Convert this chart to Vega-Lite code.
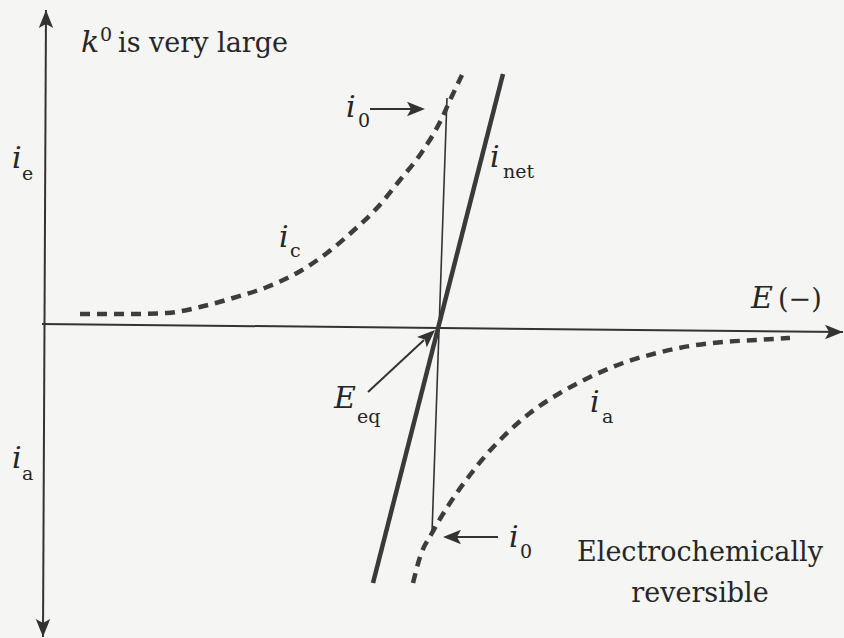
{
  "$schema": "https://vega.github.io/schema/vega-lite/v6.json",
  "width": 844,
  "height": 638,
  "autosize": {"type": "fit", "contains": "padding"},
  "padding": 0,
  "background": "#f5f5f3",
  "config": {"view": {"stroke": null}},
  "datasets": {
    "axes": [
      {"part": "current axis", "E": -392, "i": 318, "E2": -395, "i2": -309},
      {"part": "potential axis", "E": -396, "i": 4, "E2": 405, "i2": -4}
    ],
    "pointers": [
      {"part": "i0 top", "E": -68, "i": 219, "E2": -24, "i2": 219},
      {"part": "i0 bottom", "E": 15, "i": -209, "E2": 60, "i2": -209},
      {"part": "Eeq", "E": -70, "i": -64, "E2": -14, "i2": -12}
    ],
    "exchange": [
      {"part": "i0 span", "E": 9, "i": 230, "E2": -6, "i2": -205}
    ],
    "net": [
      {"part": "i net", "E": -65, "i": -255, "E2": 65, "i2": 254}
    ],
    "heads": [
      {"part": "current axis up", "E": -392, "i": 318, "heading": 270},
      {"part": "current axis down", "E": -395, "i": -309, "heading": 90},
      {"part": "potential axis", "E": 405, "i": -4, "heading": 0},
      {"part": "i0 top", "E": -13, "i": 219, "heading": 0},
      {"part": "i0 bottom", "E": 5, "i": -209, "heading": 180},
      {"part": "Eeq", "E": -3, "i": -2, "heading": 317}
    ],
    "curves": [
      {"branch": "ic", "E": -358, "i": 14},
      {"branch": "ic", "E": -311, "i": 14},
      {"branch": "ic", "E": -271, "i": 15},
      {"branch": "ic", "E": -238, "i": 21},
      {"branch": "ic", "E": -205, "i": 30},
      {"branch": "ic", "E": -171, "i": 41},
      {"branch": "ic", "E": -141, "i": 55},
      {"branch": "ic", "E": -111, "i": 75},
      {"branch": "ic", "E": -85, "i": 97},
      {"branch": "ic", "E": -61, "i": 120},
      {"branch": "ic", "E": -38, "i": 148},
      {"branch": "ic", "E": -16, "i": 176},
      {"branch": "ic", "E": 2, "i": 206},
      {"branch": "ic", "E": 14, "i": 232},
      {"branch": "ic", "E": 24, "i": 253},
      {"branch": "ia", "E": -25, "i": -255},
      {"branch": "ia", "E": -18, "i": -229},
      {"branch": "ia", "E": -6, "i": -205},
      {"branch": "ia", "E": 12, "i": -175},
      {"branch": "ia", "E": 32, "i": -147},
      {"branch": "ia", "E": 43, "i": -133},
      {"branch": "ia", "E": 65, "i": -109},
      {"branch": "ia", "E": 92, "i": -85},
      {"branch": "ia", "E": 122, "i": -65},
      {"branch": "ia", "E": 152, "i": -49},
      {"branch": "ia", "E": 185, "i": -35},
      {"branch": "ia", "E": 219, "i": -25},
      {"branch": "ia", "E": 252, "i": -18},
      {"branch": "ia", "E": 285, "i": -14},
      {"branch": "ia", "E": 319, "i": -12},
      {"branch": "ia", "E": 352, "i": -10}
    ],
    "symbols": [
      {"label": "k", "E": -357, "i": 276},
      {"label": "i", "E": -426, "i": 160},
      {"label": "i", "E": -426, "i": -140},
      {"label": "i", "E": -92, "i": 211},
      {"label": "i", "E": -159, "i": 81},
      {"label": "i", "E": 52, "i": 161},
      {"label": "E", "E": 313, "i": 20},
      {"label": "E", "E": -104, "i": -80},
      {"label": "i", "E": 152, "i": -84},
      {"label": "i", "E": 71, "i": -219}
    ],
    "indices": [
      {"label": "0", "E": -338, "i": 287},
      {"label": "e", "E": -416, "i": 148},
      {"label": "a", "E": -416, "i": -152},
      {"label": "0", "E": -80, "i": 201},
      {"label": "c", "E": -148, "i": 71},
      {"label": "net", "E": 65, "i": 150},
      {"label": "eq", "E": -81, "i": -95},
      {"label": "a", "E": 164, "i": -95},
      {"label": "0", "E": 82, "i": -230}
    ],
    "captions": [
      {"label": "is very large", "E": -320, "i": 276},
      {"label": "(−)", "E": 340, "i": 20}
    ],
    "note": [
      {"label": "Electrochemically", "E": 262, "i": -233},
      {"label": "reversible", "E": 262, "i": -274}
    ]
  },
  "layer": [
    {
      "data": {"name": "axes"},
      "mark": {"type": "rule", "color": "#333333", "strokeWidth": 2},
      "encoding": {
        "x": {"field": "E", "type": "quantitative", "scale": {"domain": [-438, 406], "nice": false, "zero": false}, "axis": null},
        "y": {"field": "i", "type": "quantitative", "scale": {"domain": [-310, 328], "nice": false, "zero": false}, "axis": null},
        "x2": {"field": "E2"},
        "y2": {"field": "i2"}
      }
    },
    {
      "data": {"name": "pointers"},
      "mark": {"type": "rule", "color": "#333333", "strokeWidth": 2},
      "encoding": {
        "x": {"field": "E", "type": "quantitative"},
        "y": {"field": "i", "type": "quantitative"},
        "x2": {"field": "E2"},
        "y2": {"field": "i2"}
      }
    },
    {
      "data": {"name": "exchange"},
      "mark": {"type": "rule", "color": "#333333", "strokeWidth": 1.6},
      "encoding": {
        "x": {"field": "E", "type": "quantitative"},
        "y": {"field": "i", "type": "quantitative"},
        "x2": {"field": "E2"},
        "y2": {"field": "i2"}
      }
    },
    {
      "data": {"name": "net"},
      "mark": {"type": "rule", "color": "#3a3a3a", "strokeWidth": 4.5},
      "encoding": {
        "x": {"field": "E", "type": "quantitative"},
        "y": {"field": "i", "type": "quantitative"},
        "x2": {"field": "E2"},
        "y2": {"field": "i2"}
      }
    },
    {
      "data": {"name": "curves"},
      "mark": {"type": "line", "color": "#3d3d3d", "strokeWidth": 4.5, "strokeDash": [10, 7], "strokeCap": "butt", "interpolate": "monotone"},
      "encoding": {
        "x": {"field": "E", "type": "quantitative"},
        "y": {"field": "i", "type": "quantitative"},
        "detail": {"field": "branch"}
      }
    },
    {
      "data": {"name": "heads"},
      "mark": {"type": "point", "shape": "M0,0 L-2,-0.8 L-1.55,0 L-2,0.8 Z", "size": 324, "filled": true, "opacity": 1, "color": "#333333"},
      "encoding": {
        "x": {"field": "E", "type": "quantitative"},
        "y": {"field": "i", "type": "quantitative"},
        "angle": {"field": "heading", "type": "quantitative", "scale": null}
      }
    },
    {
      "data": {"name": "symbols"},
      "mark": {"type": "text", "font": "DejaVu Serif", "fontStyle": "italic", "fontSize": 30, "align": "left", "baseline": "alphabetic", "color": "#262626"},
      "encoding": {
        "x": {"field": "E", "type": "quantitative"},
        "y": {"field": "i", "type": "quantitative"},
        "text": {"field": "label"}
      }
    },
    {
      "data": {"name": "indices"},
      "mark": {"type": "text", "font": "DejaVu Serif", "fontSize": 19, "align": "left", "baseline": "alphabetic", "color": "#262626"},
      "encoding": {
        "x": {"field": "E", "type": "quantitative"},
        "y": {"field": "i", "type": "quantitative"},
        "text": {"field": "label"}
      }
    },
    {
      "data": {"name": "captions"},
      "mark": {"type": "text", "font": "DejaVu Serif", "fontSize": 27, "align": "left", "baseline": "alphabetic", "color": "#262626"},
      "encoding": {
        "x": {"field": "E", "type": "quantitative"},
        "y": {"field": "i", "type": "quantitative"},
        "text": {"field": "label"}
      }
    },
    {
      "data": {"name": "note"},
      "mark": {"type": "text", "font": "DejaVu Serif", "fontSize": 27, "align": "center", "baseline": "alphabetic", "color": "#262626"},
      "encoding": {
        "x": {"field": "E", "type": "quantitative"},
        "y": {"field": "i", "type": "quantitative"},
        "text": {"field": "label"}
      }
    }
  ]
}
